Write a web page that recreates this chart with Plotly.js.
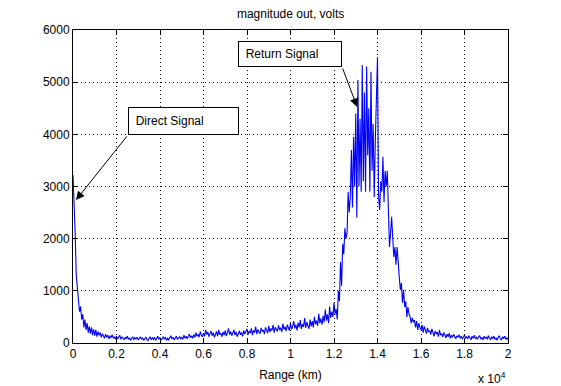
<!DOCTYPE html>
<html>
<head>
<meta charset="utf-8">
<script src="https://cdn.plot.ly/plotly-3.0.1.min.js"></script>
<style>html,body{margin:0;padding:0;background:#fff;}#chart{width:561px;height:386px;}</style>
</head>
<body>
<div id="chart"></div>
<script>
// Range sampled every 50 km starting at 0
const rangeStart = 0;
const rangeStep = 50;
const magnitude = [
  3220, 2700, 2100, 1300, 1000, 900, 600, 700, 450, 550, 300, 450, 250, 380, 200, 320, 180, 300, 150, 260,
  140, 250, 120, 220, 150, 200, 110, 180, 130, 90, 170, 110, 150, 80, 140, 100, 160, 90, 120, 70,
  130, 80, 110, 150, 70, 120, 90, 60, 110, 80, 130, 70, 100, 50, 90, 120, 60, 100, 80, 110,
  60, 90, 120, 70, 100, 50, 80, 110, 70, 40, 90, 120, 60, 100, 70, 110, 50, 90, 130, 70,
  100, 60, 80, 120, 70, 110, 50, 90, 60, 100, 140, 80, 110, 60, 90, 130, 70, 100, 120, 80,
  110, 70, 150, 90, 130, 80, 120, 170, 100, 140, 90, 160, 110, 200, 130, 170, 110, 220, 150, 120,
  190, 130, 250, 160, 210, 120, 180, 230, 140, 200, 110, 170, 220, 130, 250, 160, 190, 120, 210, 150,
  240, 130, 200, 280, 160, 220, 140, 190, 250, 150, 210, 120, 180, 230, 160, 200, 130, 240, 170, 210,
  270, 160, 230, 190, 280, 150, 240, 200, 310, 170, 260, 210, 180, 290, 220, 250, 170, 300, 230, 190,
  330, 210, 280, 240, 350, 200, 300, 260, 220, 340, 250, 290, 210, 370, 260, 310, 230, 350, 280, 240,
  380, 260, 320, 420, 280, 350, 240, 390, 300, 440, 270, 360, 310, 480, 290, 400, 330, 270, 450, 320,
  420, 300, 500, 360, 430, 330, 560, 380, 470, 350, 520, 400, 640, 430, 550, 380, 700, 480, 600, 500,
  770, 550, 650, 450, 1000, 800, 1550, 1100, 1900, 1700, 2200, 2000, 2100, 2900, 2500, 2800, 3700, 2600, 3950, 3000,
  4400, 2400, 5040, 3000, 4300, 2900, 5330, 3100, 4800, 2900, 5300, 3600, 4500, 2900, 5200, 3300, 4200, 2800, 3900, 4600,
  5480, 2800, 2550, 3100, 2900, 3570, 2700, 3300, 3000, 3300, 2550, 1840, 2100, 2420, 2030, 1650, 1840, 1500, 1840, 1460,
  1270, 1020, 1150, 770, 1020, 690, 800, 500, 690, 550, 500, 380, 480, 400, 440, 300, 420, 250, 380, 300,
  250, 350, 200, 320, 260, 180, 290, 210, 240, 160, 270, 190, 130, 230, 170, 210, 120, 250, 150, 180,
  120, 200, 140, 100, 170, 120, 190, 90, 150, 110, 170, 130, 80, 140, 110, 160, 90, 130, 70, 120,
  150, 90, 120, 80, 140, 100, 60, 130, 90, 150, 80, 110, 70, 120, 140, 80, 100, 60, 130, 90,
  110, 70, 140, 90, 60, 120, 80, 130, 70, 100, 50, 110, 140, 80, 60, 120, 90, 130, 70, 100,
  60
];
const xTickVals = [0, 2000, 4000, 6000, 8000, 10000, 12000, 14000, 16000, 18000, 20000];
const xTickText = ['0', '0.2', '0.4', '0.6', '0.8', '1', '1.2', '1.4', '1.6', '1.8', '2'];
const yTickVals = [0, 1000, 2000, 3000, 4000, 5000, 6000];
const titleText = 'magnitude out, volts';
const xTitle = 'Range (km)';
const exponentText = 'x 10<sup>4</sup>';
const labelDirect = 'Direct Signal';
const labelReturn = 'Return Signal';

const font = {family: 'Liberation Sans, Arial, sans-serif', size: 12, color: '#000'};

const trace = {
  type: 'scatter', mode: 'lines',
  x0: rangeStart, dx: rangeStep, y: magnitude,
  line: {color: '#0000ff', width: 1.1},
  hoverinfo: 'skip'
};

const axisCommon = {
  showline: true, linecolor: '#000', linewidth: 1, mirror: 'ticks',
  ticks: 'inside', ticklen: 5, tickcolor: '#000',
  showgrid: true, gridcolor: '#000', gridwidth: 1, griddash: '1px,3px',
  zeroline: false, tickfont: font
};

const layout = {
  width: 561, height: 386,
  margin: {l: 73, r: 53, t: 30, b: 43},
  paper_bgcolor: '#fff', plot_bgcolor: '#fff',
  font: font,
  showlegend: false,
  title: {text: titleText, font: {family: font.family, size: 12, color: '#000'}, x: 0.518, xanchor: 'center', y: 0.965, yanchor: 'middle'},
  xaxis: Object.assign({}, axisCommon, {
    range: [0, 20000], tickmode: 'array', tickvals: xTickVals, ticktext: xTickText,
    title: {text: xTitle, font: font, standoff: 10}
  }),
  yaxis: Object.assign({}, axisCommon, {
    range: [0, 6000], tickmode: 'array', tickvals: yTickVals,
    ticktext: yTickVals.map(String)
  }),
  annotations: [
    {xref: 'paper', yref: 'paper', x: 1.0, y: -0.112, xanchor: 'right', yanchor: 'middle',
     text: exponentText, showarrow: false, font: font},
    // Direct Signal box
    {xref: 'x', yref: 'y', x: 5083, y: 4256, xanchor: 'center', yanchor: 'middle',
     text: '&nbsp;&nbsp;' + labelDirect, align: 'left', width: 109, height: 26,
     showarrow: false, bgcolor: '#fff', bordercolor: '#000', borderwidth: 1, borderpad: 0, font: font},
    // Direct Signal arrow
    {xref: 'x', yref: 'y', x: 138, y: 2740, axref: 'x', ayref: 'y', ax: 2530, ay: 3990,
     text: '', showarrow: true, arrowhead: 2, arrowsize: 1.7, arrowwidth: 1, arrowcolor: '#000'},
    // Return Signal box
    {xref: 'x', yref: 'y', x: 9982, y: 5540, xanchor: 'center', yanchor: 'middle',
     text: '&nbsp;&nbsp;' + labelReturn, align: 'left', width: 102, height: 24,
     showarrow: false, bgcolor: '#fff', bordercolor: '#000', borderwidth: 1, borderpad: 0, font: font},
    // Return Signal arrow
    {xref: 'x', yref: 'y', x: 13064, y: 4524, axref: 'x', ayref: 'y', ax: 12374, ay: 5291,
     text: '', showarrow: true, arrowhead: 2, arrowsize: 1.7, arrowwidth: 1, arrowcolor: '#000'}
  ]
};

Plotly.newPlot('chart', [trace], layout, {displayModeBar: false, staticPlot: true});
</script>
</body>
</html>
